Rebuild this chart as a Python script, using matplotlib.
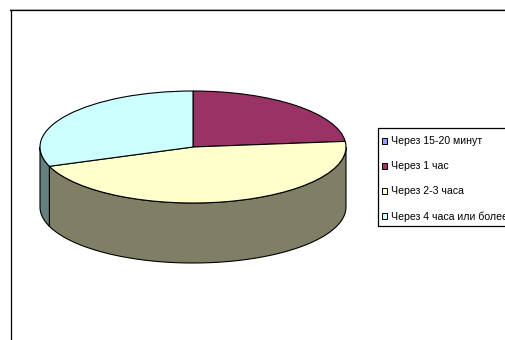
import numpy as np
import matplotlib
matplotlib.use("Agg")
import matplotlib.pyplot as plt
from matplotlib.lines import Line2D
from matplotlib.patches import Rectangle

labels = ["Через 15-20 минут", "Через 1 час", "Через 2-3 часа", "Через 4 часа или более"]
values = [0.0, 23.4, 46.0, 30.6]
colors = ["#9999FF", "#993366", "#FFFFCC", "#CCFFFF"]
side_colors = ["#4C4C7F", "#4C1933", "#7F7F66", "#667F7F"]

W, H = 505, 340
plt.rcParams['font.family'] = ['Liberation Sans', 'DejaVu Sans']
fig = plt.figure(figsize=(W / 100, H / 100), dpi=100, facecolor="white")

# chart frame (open on the right and bottom, cut by the picture edge)
fx = lambda p: p / W
fy = lambda p: 1 - p / H
fig.add_artist(Line2D([fx(10.5), fx(10.5)], [fy(9.5), fy(340)], color="black", lw=0.9))
fig.add_artist(Line2D([fx(10), fx(505)], [fy(9.5), fy(9.5)], color="black", lw=0.9))
fig.add_artist(Line2D([fx(10), fx(505)], [fy(8.6), fy(8.6)], color="#a8a8a8", lw=0.7))

# pie axes: unit circle maps to the flattened ellipse
cx, cy, rx, ry = 193, 147, 153, 56
depth = 60 / ry
ax = fig.add_axes([fx(cx - rx), fy(cy + ry), 2 * rx / W, 2 * ry / H])
wedges, _ = ax.pie(values, colors=colors, startangle=90, counterclock=False, radius=1,
                   wedgeprops=dict(edgecolor="black", linewidth=0.8, zorder=3))
ax.set_aspect("auto")
ax.set_xlim(-1, 1)
ax.set_ylim(-1, 1)
ax.axis("off")

# side walls of the visible front half, derived from the values
total = sum(values)
start = 90.0
for v, sc in zip(values, side_colors):
    end = start - 360 * v / total
    segs = []
    for shift in (0, 360):
        lo, hi = max(end + shift, -180), min(start + shift, 0)
        if hi > lo:
            segs.append((lo, hi))
    for a, b in segs:
        t = np.radians(np.linspace(a, b, 80))
        xs = np.cos(t)
        ys = np.sin(t)
        px = np.concatenate([xs, xs[::-1]])
        py = np.concatenate([ys, ys[::-1] - depth])
        ax.fill(px, py, facecolor=sc, edgecolor="black", linewidth=0.8, zorder=1, clip_on=False)
    start = end
for w in wedges:
    w.set_clip_on(False)

# legend box runs past the right edge of the picture
fig.add_artist(Rectangle((fx(377.5), fy(226)), (W + 20 - 377.5) / W, (226 - 127.5) / H,
                         transform=fig.transFigure, facecolor="white", edgecolor="black",
                         linewidth=0.9, zorder=4))
leg = fig.legend(wedges, labels, loc="upper left",
                 bbox_to_anchor=(fx(381.5), fy(136.5)), bbox_transform=fig.transFigure,
                 fontsize=7.6, frameon=False, borderaxespad=0, borderpad=0,
                 handlelength=0.56, handleheight=0.56, handletextpad=0.36,
                 labelspacing=1.42, ncol=1)
leg.set_zorder(5)
for h in leg.legend_handles:
    h.set_linewidth(0.7)

fig.savefig("out.png", dpi=100)
